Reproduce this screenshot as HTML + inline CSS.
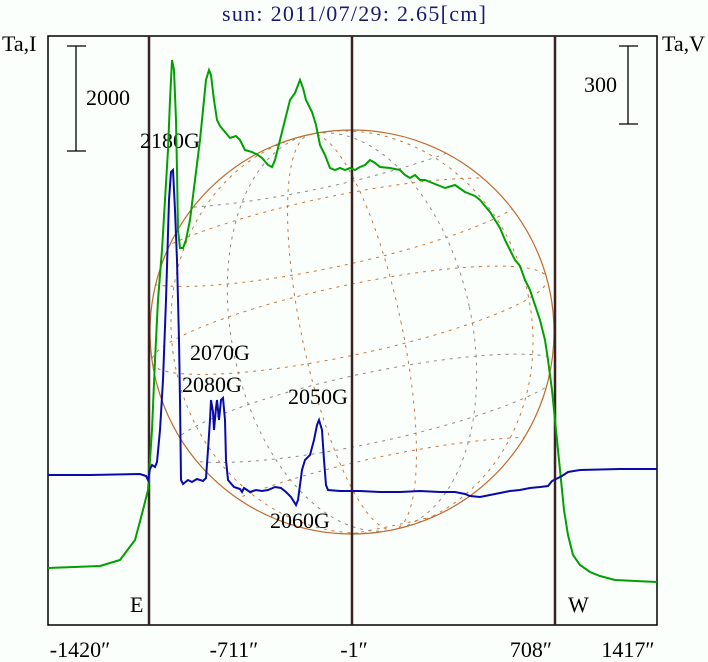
<!DOCTYPE html>
<html><head><meta charset="utf-8"><style>
body{margin:0;background:#fdfffd;}
svg{display:block;font-family:"Liberation Serif",serif;}
</style></head><body>
<svg width="708" height="662" viewBox="0 0 708 662" xmlns="http://www.w3.org/2000/svg">
<rect width="708" height="662" fill="#fbfffb"/>
<text x="354" y="21" font-size="22" fill="#1a1a6e" text-anchor="middle" textLength="264">sun: 2011/07/29: 2.65[cm]</text>
<text x="2" y="51" font-size="22">Ta,I</text>
<text x="662" y="51" font-size="22">Ta,V</text>
<defs><clipPath id="c"><circle cx="352" cy="332" r="202"/></clipPath></defs>
<g clip-path="url(#c)" fill="none" stroke="#c87840" stroke-width="1" stroke-dasharray="3,5">
<g transform="rotate(-12 352 332)">
<ellipse cx="352" cy="332" rx="50" ry="202"/>
<ellipse cx="352" cy="332" rx="120" ry="202" stroke="#8a8a8a"/>
<ellipse cx="352" cy="332" rx="180" ry="202"/>
<ellipse cx="352" cy="230" rx="202" ry="35"/>
<ellipse cx="352" cy="150" rx="202" ry="35" stroke="#8a8a8a"/>
<ellipse cx="352" cy="320" rx="202" ry="35"/>
<ellipse cx="352" cy="410" rx="202" ry="35" stroke="#8a8a8a"/>
<ellipse cx="352" cy="495" rx="202" ry="35"/>
</g>
</g>
<circle cx="352" cy="332" r="202" fill="none" stroke="#c06a30" stroke-width="1.2"/>
<rect x="48" y="36" width="609" height="589" fill="none" stroke="#000" stroke-width="1.5"/>
<g stroke="#3a2222" stroke-width="2.5">
<line x1="149" y1="36" x2="149" y2="625"/><line x1="352" y1="36" x2="352" y2="625"/><line x1="555" y1="36" x2="555" y2="625"/>
</g>
<g stroke="#000" stroke-width="1.3">
<line x1="76" y1="46" x2="76" y2="151"/><line x1="67" y1="46" x2="86" y2="46"/><line x1="67" y1="151" x2="86" y2="151"/>
<line x1="628" y1="46" x2="628" y2="124"/><line x1="619" y1="46" x2="638" y2="46"/><line x1="619" y1="124" x2="638" y2="124"/>
</g>
<g font-size="22">
<text x="86" y="105">2000</text><text x="584" y="92">300</text>
<text x="140" y="148">2180G</text><text x="190" y="360">2070G</text><text x="182" y="392">2080G</text>
<text x="288" y="404">2050G</text><text x="270" y="528">2060G</text>
<text x="130" y="612">E</text><text x="568" y="612">W</text>
<text x="80" y="657" text-anchor="middle">-1420″</text><text x="234" y="657" text-anchor="middle">-711″</text>
<text x="354" y="657" text-anchor="middle">-1″</text><text x="531" y="657" text-anchor="middle">708″</text>
<text x="628" y="657" text-anchor="middle">1417″</text>
</g>
<polyline fill="none" stroke="#00a000" stroke-width="2" points="48,568 100,566 120,560 135,540 143,510 148,490 152,430 155,360 158,300 162,250 165,200 168,150 170,100 172,60 174,70 176,120 177,170 178,230 180,248 183,248 186,240 190,220 195,180 200,140 203,110 206,80 209,70 211,75 214,100 217,120 220,126 225,132 230,138 236,136 240,140 245,150 252,152 258,155 262,158 268,165 272,167 275,160 280,140 285,120 290,100 295,93 300,80 303,88 306,100 312,112 316,125 320,145 325,155 330,168 335,170 340,168 345,170 350,168 355,170 360,167 365,165 370,160 375,163 380,167 390,168 400,170 405,175 410,178 415,175 420,180 425,180 430,182 440,186 445,188 455,185 465,192 470,194 475,196 480,200 485,206 490,212 495,220 500,228 505,240 510,250 515,260 520,266 525,280 530,290 535,305 540,320 545,340 548,360 552,390 555,420 558,450 561,480 564,510 568,535 573,555 580,565 590,572 600,576 615,580 657,582"/>
<polyline fill="none" stroke="#0a0aa8" stroke-width="2" points="48,475 90,475 140,474 146,476 148,480 150,469 152,465 155,467 157,462 160,430 163,380 166,300 169,200 171,172 173,170 175,210 177,260 179,340 180,400 181,480 183,484 188,480 192,482 197,479 203,481 206,478 208,450 210,420 211,400 213,412 214,430 216,408 217,400 219,420 221,400 223,398 225,420 226,460 228,480 234,487 240,489 242,492 244,488 250,492 256,490 262,491 268,490 275,487 281,488 286,492 291,497 296,505 298,500 302,470 305,460 310,455 314,440 317,425 319,420 322,430 324,460 326,485 328,490 340,491 360,491 380,492 400,492 420,491 440,492 455,492 465,494 470,496 480,497 490,495 500,493 510,491 520,490 530,488 540,487 548,486 552,481 556,479 562,476 568,472 580,470 620,469 657,469"/>
</svg>
</body></html>
